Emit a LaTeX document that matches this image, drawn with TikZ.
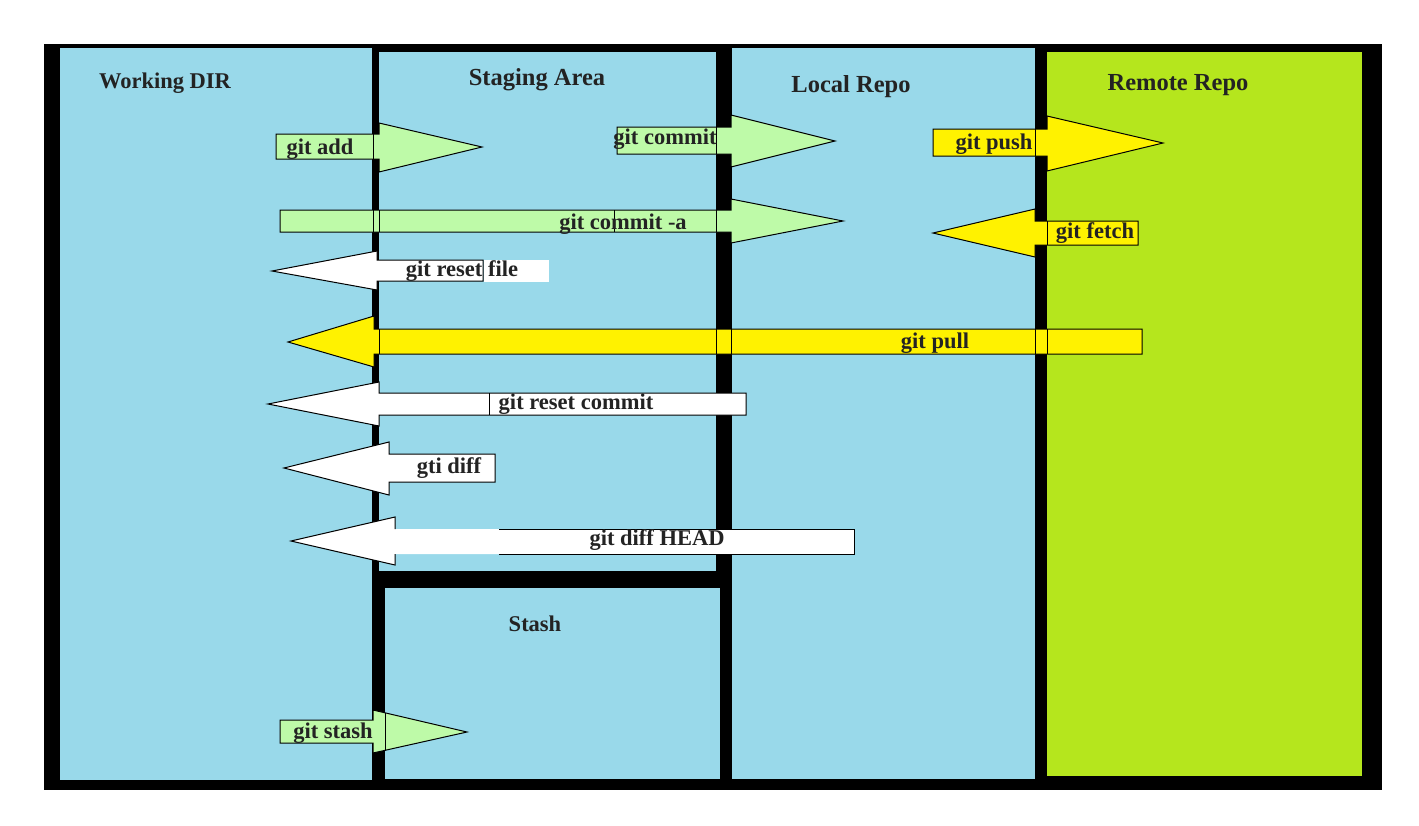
\documentclass[tikz,border=0pt]{standalone}
\usepackage{fontspec}
\setmainfont{Liberation Serif}
\usepackage{tikz}

\definecolor{dirblue}{RGB}{153,217,234}
\definecolor{remgreen}{RGB}{181,230,29}
\definecolor{argreen}{RGB}{190,250,168}
\definecolor{aryellow}{RGB}{255,242,0}
\definecolor{txt}{RGB}{35,35,35}

\begin{document}
\begin{tikzpicture}[x=1pt,y=-1pt,
    lbl/.style={font=\bfseries\fontsize{22.5}{26}\selectfont,text=txt,inner sep=0pt,yshift=-2pt},
    title/.style={lbl,font=\bfseries\fontsize{24.5}{28}\selectfont},
    arr/.style={draw=black,line width=1pt}]
  \useasboundingbox (0,0) rectangle (1419,825);
  \fill[white] (0,0) rectangle (1419,825);
  \fill[black] (44,44) rectangle (1382,790);
  % the five areas
  \fill[dirblue] (60,48) rectangle (372,780);
  \fill[dirblue] (379,52) rectangle (716,571);
  \fill[dirblue] (385,588) rectangle (720,779);
  \fill[dirblue] (732,48) rectangle (1035,779);
  \fill[remgreen] (1047,52) rectangle (1362,776);
  \node[lbl] (work) at (165,81) {Working DIR};
  \node[title] (stage) at (537,78) {Staging Area};
  \node[title] (local) at (851,85) {Local Repo};
  \node[title] (remote) at (1178,83) {Remote Repo};
  \node[lbl] (stash) at (535,622) {Stash};
  % git add
  \filldraw[arr,fill=argreen] (276,134) -- (379,134) -- (379,123) -- (482,147) -- (379,172) -- (379,159) -- (276,159) -- cycle;
  \draw[arr] (373,134) -- (373,159);
  \node[lbl] (add) at (320,147) {git add};
  % git commit
  \filldraw[arr,fill=argreen] (617,127) -- (731,127) -- (731,115) -- (835,141) -- (731,167) -- (731,154) -- (617,154) -- cycle;
  \draw[arr] (716,127) -- (716,154);
  \node[lbl] (commit) at (665,137) {git commit};
  % git push
  \filldraw[arr,fill=aryellow] (933,129) -- (1047,129) -- (1047,116) -- (1163,143) -- (1047,171) -- (1047,156) -- (933,156) -- cycle;
  \draw[arr] (1035,129) -- (1035,156);
  \node[lbl] (push) at (994,142) {git push};
  % git commit -a
  \filldraw[arr,fill=argreen] (280,210) -- (731,210) -- (731,199) -- (843,221) -- (731,243) -- (731,232) -- (280,232) -- cycle;
  \draw[arr] (373,210) -- (373,232) (379,210) -- (379,232) (614,210) -- (614,232) (716,210) -- (716,232);
  \node[lbl] (commita) at (623,222) {git commit -a};
  % git fetch
  \filldraw[arr,fill=aryellow] (1138,221) -- (1035,221) -- (1035,209) -- (933,233) -- (1035,257) -- (1035,245) -- (1138,245) -- cycle;
  \draw[arr] (1047,221) -- (1047,245);
  \node[lbl] (fetch) at (1095,231) {git fetch};
  % git reset file
  \filldraw[arr,fill=white] (483,260) -- (377,260) -- (377,251) -- (272,271) -- (377,290) -- (377,281) -- (483,281) -- cycle;
  \fill[white] (483.5,259.5) rectangle (549,281.5);
  \node[lbl] (resetf) at (462,269) {git reset file};
  % git pull
  \filldraw[arr,fill=aryellow] (1142,329) -- (374,329) -- (374,316) -- (288,342) -- (374,367) -- (374,354) -- (1142,354) -- cycle;
  \draw[arr] (379,329) -- (379,354) (716,329) -- (716,354) (731,329) -- (731,354) (1035,329) -- (1035,354) (1047,329) -- (1047,354);
  \node[lbl] (pull) at (935,341) {git pull};
  % git reset commit
  \filldraw[arr,fill=white] (746,393) -- (379,393) -- (379,382) -- (268,404) -- (379,426) -- (379,415) -- (746,415) -- cycle;
  \draw[arr] (489,393) -- (489,415);
  \node[lbl] (resetc) at (576,402) {git reset commit};
  % gti diff
  \filldraw[arr,fill=white] (495,454) -- (389,454) -- (389,442) -- (284,468) -- (389,495) -- (389,482) -- (495,482) -- cycle;
  \node[lbl] (diff) at (449,466) {gti diff};
  % git diff HEAD
  \fill[white] (854,529) -- (395,529) -- (395,517) -- (291,541) -- (395,565) -- (395,554) -- (854,554) -- cycle;
  \draw[arr] (395,529) -- (395,517) -- (291,541) -- (395,565) -- (395,554);
  \draw[arr] (499,529) -- (854,529) -- (854,554) -- (499,554);
  \node[lbl] (diffh) at (657,538) {git diff HEAD};
  % git stash
  \filldraw[arr,fill=argreen] (280,720) -- (373,720) -- (373,710) -- (467,732) -- (373,753) -- (373,743) -- (280,743) -- cycle;
  \draw[arr] (385,713) -- (385,751);
  \node[lbl] (stashcmd) at (333,731) {git stash};
\end{tikzpicture}
\end{document}
